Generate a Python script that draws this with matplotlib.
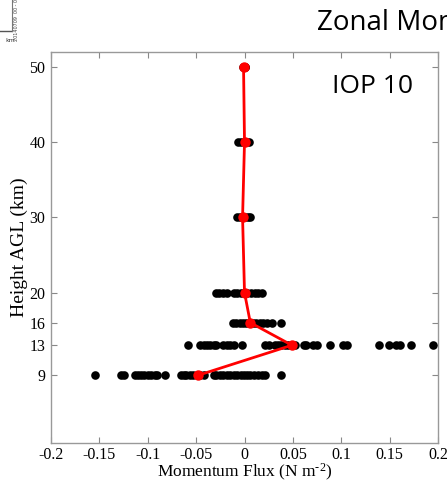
import matplotlib.pyplot as plt

plt.rcParams['mathtext.fontset'] = 'custom'
plt.rcParams['mathtext.rm'] = 'Liberation Serif'
plt.rcParams['mathtext.it'] = 'Liberation Serif:italic'

# Individual momentum flux estimates at each height level (N m^-2)
flux_9km = [-0.154, -0.128, -0.125, -0.113, -0.110, -0.107, -0.104, -0.100, -0.097,
            -0.093, -0.090, -0.082, -0.066, -0.063, -0.060, -0.056, -0.053, -0.049,
            -0.046, -0.042, -0.032, -0.029, -0.025, -0.022, -0.018, -0.015, -0.011,
            -0.008, -0.004, -0.001, 0.003, 0.006, 0.010, 0.014, 0.018, 0.021, 0.038]
flux_13km = [-0.058, -0.046, -0.042, -0.039, -0.036, -0.032, -0.029, -0.022, -0.018,
             -0.015, -0.011, -0.003, 0.021, 0.025, 0.032, 0.035, 0.038, 0.042, 0.045,
             0.052, 0.061, 0.064, 0.071, 0.075, 0.088, 0.102, 0.106, 0.139, 0.149,
             0.157, 0.161, 0.172, 0.195]
flux_16km = [-0.012, -0.009, -0.005, -0.002, 0.002, 0.005, 0.009, 0.012, 0.016,
             0.019, 0.023, 0.028, 0.038]
flux_20km = [-0.029, -0.026, -0.022, -0.018, -0.011, -0.008, -0.004, -0.001, 0.003,
             0.007, 0.011, 0.014, 0.018]
flux_30km = [-0.008, -0.005, -0.002, 0.001, 0.004, 0.006]
flux_40km = [-0.007, -0.004, -0.001, 0.002, 0.005]
flux_50km = [-0.002, 0.000, 0.001]

levels = [9, 13, 16, 20, 30, 40, 50]
samples = [flux_9km, flux_13km, flux_16km, flux_20km, flux_30km, flux_40km, flux_50km]

# Mean profile
mean_flux = [-0.048, 0.049, 0.006, 0.000, -0.002, 0.000, -0.001]

xticks = [-0.2, -0.15, -0.1, -0.05, 0, 0.05, 0.1, 0.15, 0.2]
xticklabels = ['-0.2', '-0.15', '-0.1', '-0.05', '0', '0.05', '0.1', '0.15', '0.2']

fig = plt.figure(figsize=(4.47, 4.82), dpi=100)
ax = fig.add_axes([0.114, 0.081, 0.866, 0.811])

for h, vals in zip(levels, samples):
    ax.plot(vals, [h] * len(vals), 'o', color='black', markersize=6.2,
            markeredgewidth=0, clip_on=False, zorder=2)

ax.plot(mean_flux, levels, '-o', color='red', linewidth=2, markersize=7.5,
        markeredgewidth=0, zorder=3)

ax.set_xlim(-0.2, 0.2)
ax.set_ylim(0, 52)
ax.set_xticks(xticks)
ax.set_xticklabels(xticklabels)
ax.set_yticks(levels)

serif = 'Liberation Serif'
for lbl in ax.get_xticklabels() + ax.get_yticklabels():
    lbl.set_family(serif)
    lbl.set_fontsize(11.5)

ax.tick_params(direction='in', top=True, right=True, length=4, width=0.8,
               color='#888888')
ax.tick_params(axis='x', pad=3)
ax.tick_params(axis='y', pad=4)
for sp in ax.spines.values():
    sp.set_color('#999999')
    sp.set_linewidth(1)

ax.set_xlabel(r'Momentum Flux (N m$^{\text{-}2}$)', family=serif, fontsize=12.5,
              labelpad=-1)
ax.set_ylabel('Height AGL (km)', family=serif, fontsize=14, labelpad=1)

ax.text(0.83, 0.913, 'IOP 10', transform=ax.transAxes, ha='center', va='center',
        family='Open Sans', fontsize=19)

# Slide title and clipped neighbouring panel
fig.text(317 / 447, 1 - 30 / 482, 'Zonal Momentum Flux', family='Open Sans',
         fontsize=20, ha='left', va='baseline')
fig.text(17 / 447, 1 - 15 / 482, '20140709  00 - 003 h', family='DejaVu Sans',
         fontsize=3.5, rotation=90, ha='center', va='center', color='#444444')
fig.text(5 / 447, 1 - 40 / 482, 'km', family='DejaVu Sans', fontsize=4.5,
         ha='left', va='center', color='#333333')
fig.add_artist(plt.Line2D([0, 12 / 447], [1 - 31 / 482, 1 - 31 / 482],
                          color='#555555', linewidth=1))
fig.add_artist(plt.Line2D([12 / 447, 12 / 447], [1 - 31 / 482, 1.0],
                          color='#777777', linewidth=0.8))

fig.savefig('out.png', dpi=100)
